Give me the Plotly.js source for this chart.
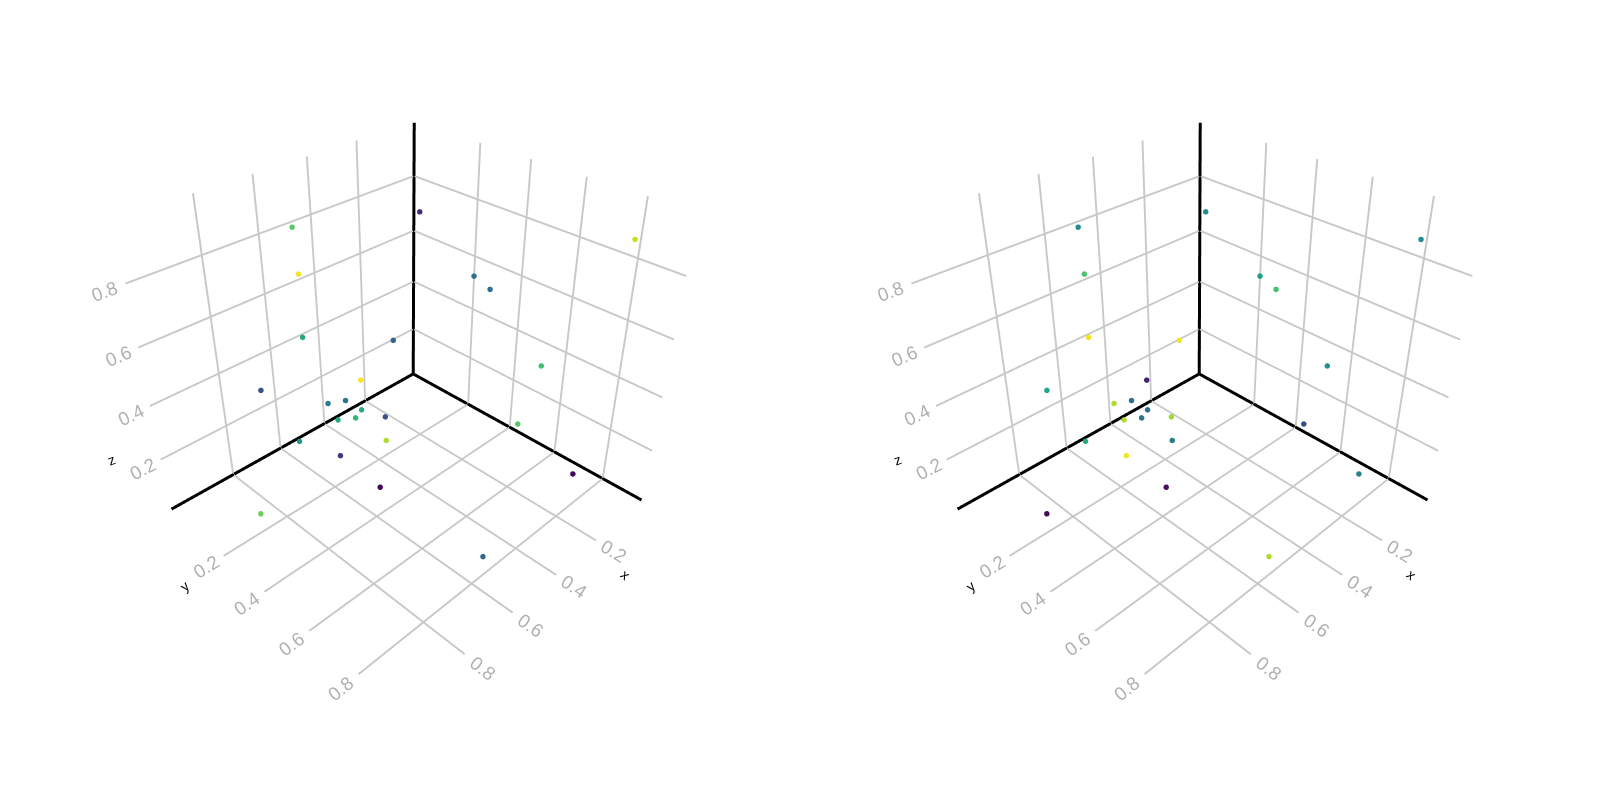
<!DOCTYPE html>
<html><head><meta charset="utf-8"><style>html,body{margin:0;background:#fff}</style>
<script src="https://cdn.plot.ly/plotly-3.0.1.min.js"></script></head><body><div id="c" style="width:1600px;height:800px"></div>
<script>
const xs=[0.635,0.704,0.732,0.825,0.892,0.758,0.692,0.651,0.672,0.617,0.629,0.618,0.578,0.622,0.709,0.715,0.533,0.213,0.299,0.312,0.274,0.311,0.176,0.608,0.087];
const ys=[0.125,0.228,0.262,0.17,0.195,0.242,0.305,0.335,0.322,0.365,0.351,0.367,0.424,0.473,0.369,0.544,0.414,0.202,0.5,0.571,0.739,0.703,0.826,0.841,0.862];
const zs=[0.9,0.82,0.65,0.475,0.065,0.295,0.43,0.435,0.37,0.4,0.37,0.505,0.385,0.35,0.285,0.275,0.62,0.84,0.765,0.755,0.565,0.365,0.17,0.14,0.925];
const c1=[.75,.98,.6,.25,.78,.52,.42,.38,.62,.62,.66,.99,.25,.88,.15,.02,.33,.12,.36,.36,.7,.74,.02,.33,.92];
const c2=[.48,.72,.98,.58,.02,.62,.88,.36,.88,.36,.4,.1,.86,.42,.98,.04,.98,.48,.56,.7,.5,.22,.43,.88,.48];
const xr=[-0.056,1.042],yr=[-0.088,0.953],zr=[-0.003,0.984];
const tickVals=[0.2,0.4,0.6,0.8],tickText=['0.2','0.4','0.6','0.8'];
const FF='Liberation Sans, Arial, sans-serif';
function ax(r){return {title:{text:''},range:r,tickvals:tickVals,ticktext:tickText,showbackground:false,gridcolor:'#c8c8c8',gridwidth:4,showline:false,zeroline:false,tickfont:{family:FF,color:'#b0b0b0',size:15},showspikes:false};}
const cam={eye:{x:1.370,y:1.368,z:1.301},center:{x:0,y:0,z:0},up:{x:0,y:0,z:1}};
function tr(c,s){return {type:'scatter3d',mode:'markers',x:xs,y:ys,z:zs,marker:{size:3.2,color:c,colorscale:'Viridis',cmin:0,cmax:1},scene:s,hoverinfo:'skip'};}
function bl(a,b,c,s){return {type:'scatter3d',mode:'lines',x:a,y:b,z:c,line:{color:'#000',width:6},scene:s,hoverinfo:'skip'};}
const e=0.002;
const lx=[xr[0]+e,xr[1]-e],ly=[yr[0]+e,yr[1]-e],lz=[zr[0]+e,zr[1]-e],x0=[xr[0]+e,xr[0]+e],y0=[yr[0]+e,yr[0]+e],z0=[zr[0]+e,zr[0]+e];
function note(t,x,y,z,dx,dy,ang){return {text:t,x,y,z,xshift:dx,yshift:dy,textangle:ang,showarrow:false,xanchor:'center',yanchor:'middle',font:{family:FF,size:14,color:'#000'}};}
const anns=[note('x',0.2,0.95,0,31,-35,40),note('y',1.04,0.2,0,-39,-31,-40),note('z',1.04,-0.085,0.2,-50,0,-20)];
const sc=d=>({domain:{x:d,y:[0.0709,0.9884]},xaxis:ax(xr),yaxis:ax(yr),zaxis:ax(zr),camera:cam,aspectmode:'manual',aspectratio:{x:1,y:0.946,z:0.907},annotations:anns});
const t=[];
for(const [s,c] of [['scene',c1],['scene2',c2]]){t.push(tr(c,s),bl(lx,y0,z0,s),bl(x0,ly,z0,s),bl(x0,y0,lz,s));}
Plotly.newPlot('c',t,{showlegend:false,margin:{l:0,r:0,t:0,b:0},paper_bgcolor:'#fff',scene:sc([0.011,0.4985]),scene2:sc([0.50225,0.98975])},{displayModeBar:false,plotGlPixelRatio:2});
</script></body></html>
